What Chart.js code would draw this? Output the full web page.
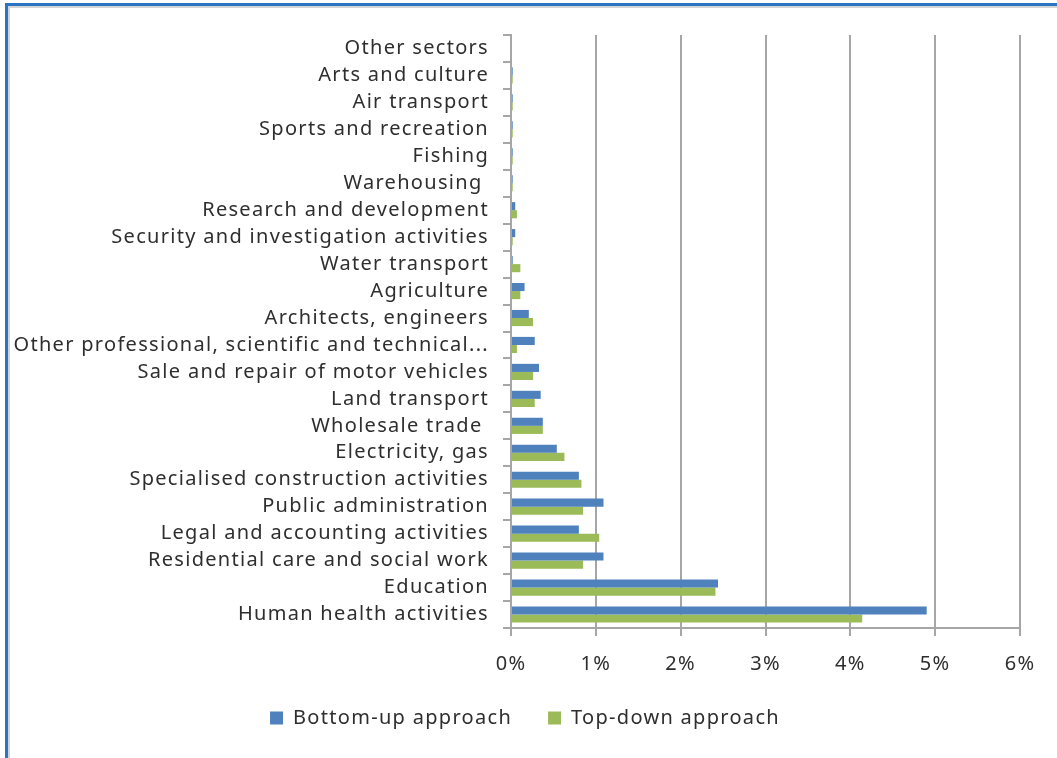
<!DOCTYPE html>
<html>
<head>
<meta charset="utf-8">
<script src="https://cdn.jsdelivr.net/npm/chart.js@4.4.1/dist/chart.umd.min.js"></script>
<style>
  body { margin: 0; background: #fff; }
  #wrap { position: relative; width: 1057px; height: 758px; overflow: hidden; }
  #frame {
    position: absolute; left: 5px; top: 3px; width: 1200px; height: 900px;
    border-top: 3px solid #2a74c2; border-left: 3px solid #2a74c2;
    box-shadow: inset 2px 2px 0 #d4d4d4;
  }
  #chart { position: absolute; left: 0; top: 0; }
</style>
</head>
<body>
<div id="wrap">
  <div id="frame"></div>
  <canvas id="chart" width="1057" height="758"></canvas>
</div>
<script>
// sectors listed top to bottom
const sectors = [
  'Other sectors', 'Arts and culture', 'Air transport', 'Sports and recreation',
  'Fishing', 'Warehousing ', 'Research and development',
  'Security and investigation activities', 'Water transport', 'Agriculture',
  'Architects, engineers', 'Other professional, scientific and technical...',
  'Sale and repair of motor vehicles', 'Land transport', 'Wholesale trade ',
  'Electricity, gas', 'Specialised construction activities', 'Public administration',
  'Legal and accounting activities', 'Residential care and social work',
  'Education', 'Human health activities'
];
// share in percent
const bottomUp = [0, 0.02, 0.02, 0.02, 0.02, 0.02, 0.05, 0.05, 0.02, 0.16, 0.21, 0.28,
  0.33, 0.35, 0.375, 0.54, 0.80, 1.09, 0.80, 1.09, 2.44, 4.90];
const topDown = [0, 0.02, 0.02, 0.02, 0.02, 0.02, 0.07, 0.02, 0.11, 0.11, 0.26, 0.07,
  0.26, 0.28, 0.375, 0.63, 0.83, 0.85, 1.04, 0.85, 2.41, 4.14];
const xTicks = ['0%', '1%', '2%', '3%', '4%', '5%', '6%'];

const FONT = { family: '"Noto Sans", sans-serif', size: 20 };
const TEXT = '#2e2e2e';
const GRID = '#a6a6a6';

// slightly looser letter spacing, and legend nudged up/right under the plot
const textTweaks = {
  id: 'textTweaks',
  beforeLayout(chart) { chart.ctx.letterSpacing = '1.3px'; },
  beforeDraw(chart) { chart.ctx.letterSpacing = '1.3px'; },
  afterLayout(chart) {
    const lg = chart.legend;
    lg.top -= 20; lg.bottom -= 20;
    lg.left += 10; lg.right += 10;
  }
};

new Chart(document.getElementById('chart'), {
  type: 'bar',
  data: {
    labels: sectors,
    datasets: [
      { label: 'Bottom-up approach', data: bottomUp, backgroundColor: '#4f81bd' },
      { label: 'Top-down approach', data: topDown, backgroundColor: '#9bbb59' }
    ]
  },
  options: {
    indexAxis: 'y',
    responsive: false,
    animation: false,
    categoryPercentage: 0.6,
    barPercentage: 1.0,
    layout: { padding: { left: 10, right: 37, top: 35, bottom: 0 } },
    plugins: {
      tooltip: { enabled: false },
      legend: {
        position: 'bottom',
        labels: {
          color: TEXT, font: FONT, boxWidth: 13, boxHeight: 13, padding: 36
        }
      }
    },
    scales: {
      x: {
        min: 0, max: 6,
        ticks: {
          stepSize: 1, color: TEXT, font: FONT, padding: 16,
          callback: (v) => xTicks[v]
        },
        grid: { color: GRID, lineWidth: 2, tickLength: 8 },
        border: { color: GRID, width: 2 }
      },
      y: {
        ticks: { color: TEXT, font: FONT, padding: 14, autoSkip: false },
        grid: { drawOnChartArea: false, color: GRID, lineWidth: 2, tickLength: 8 },
        border: { color: GRID, width: 2 },
        afterFit: (s) => { s.width = 501; }
      }
    }
  },
  plugins: [textTweaks]
});
</script>
</body>
</html>
